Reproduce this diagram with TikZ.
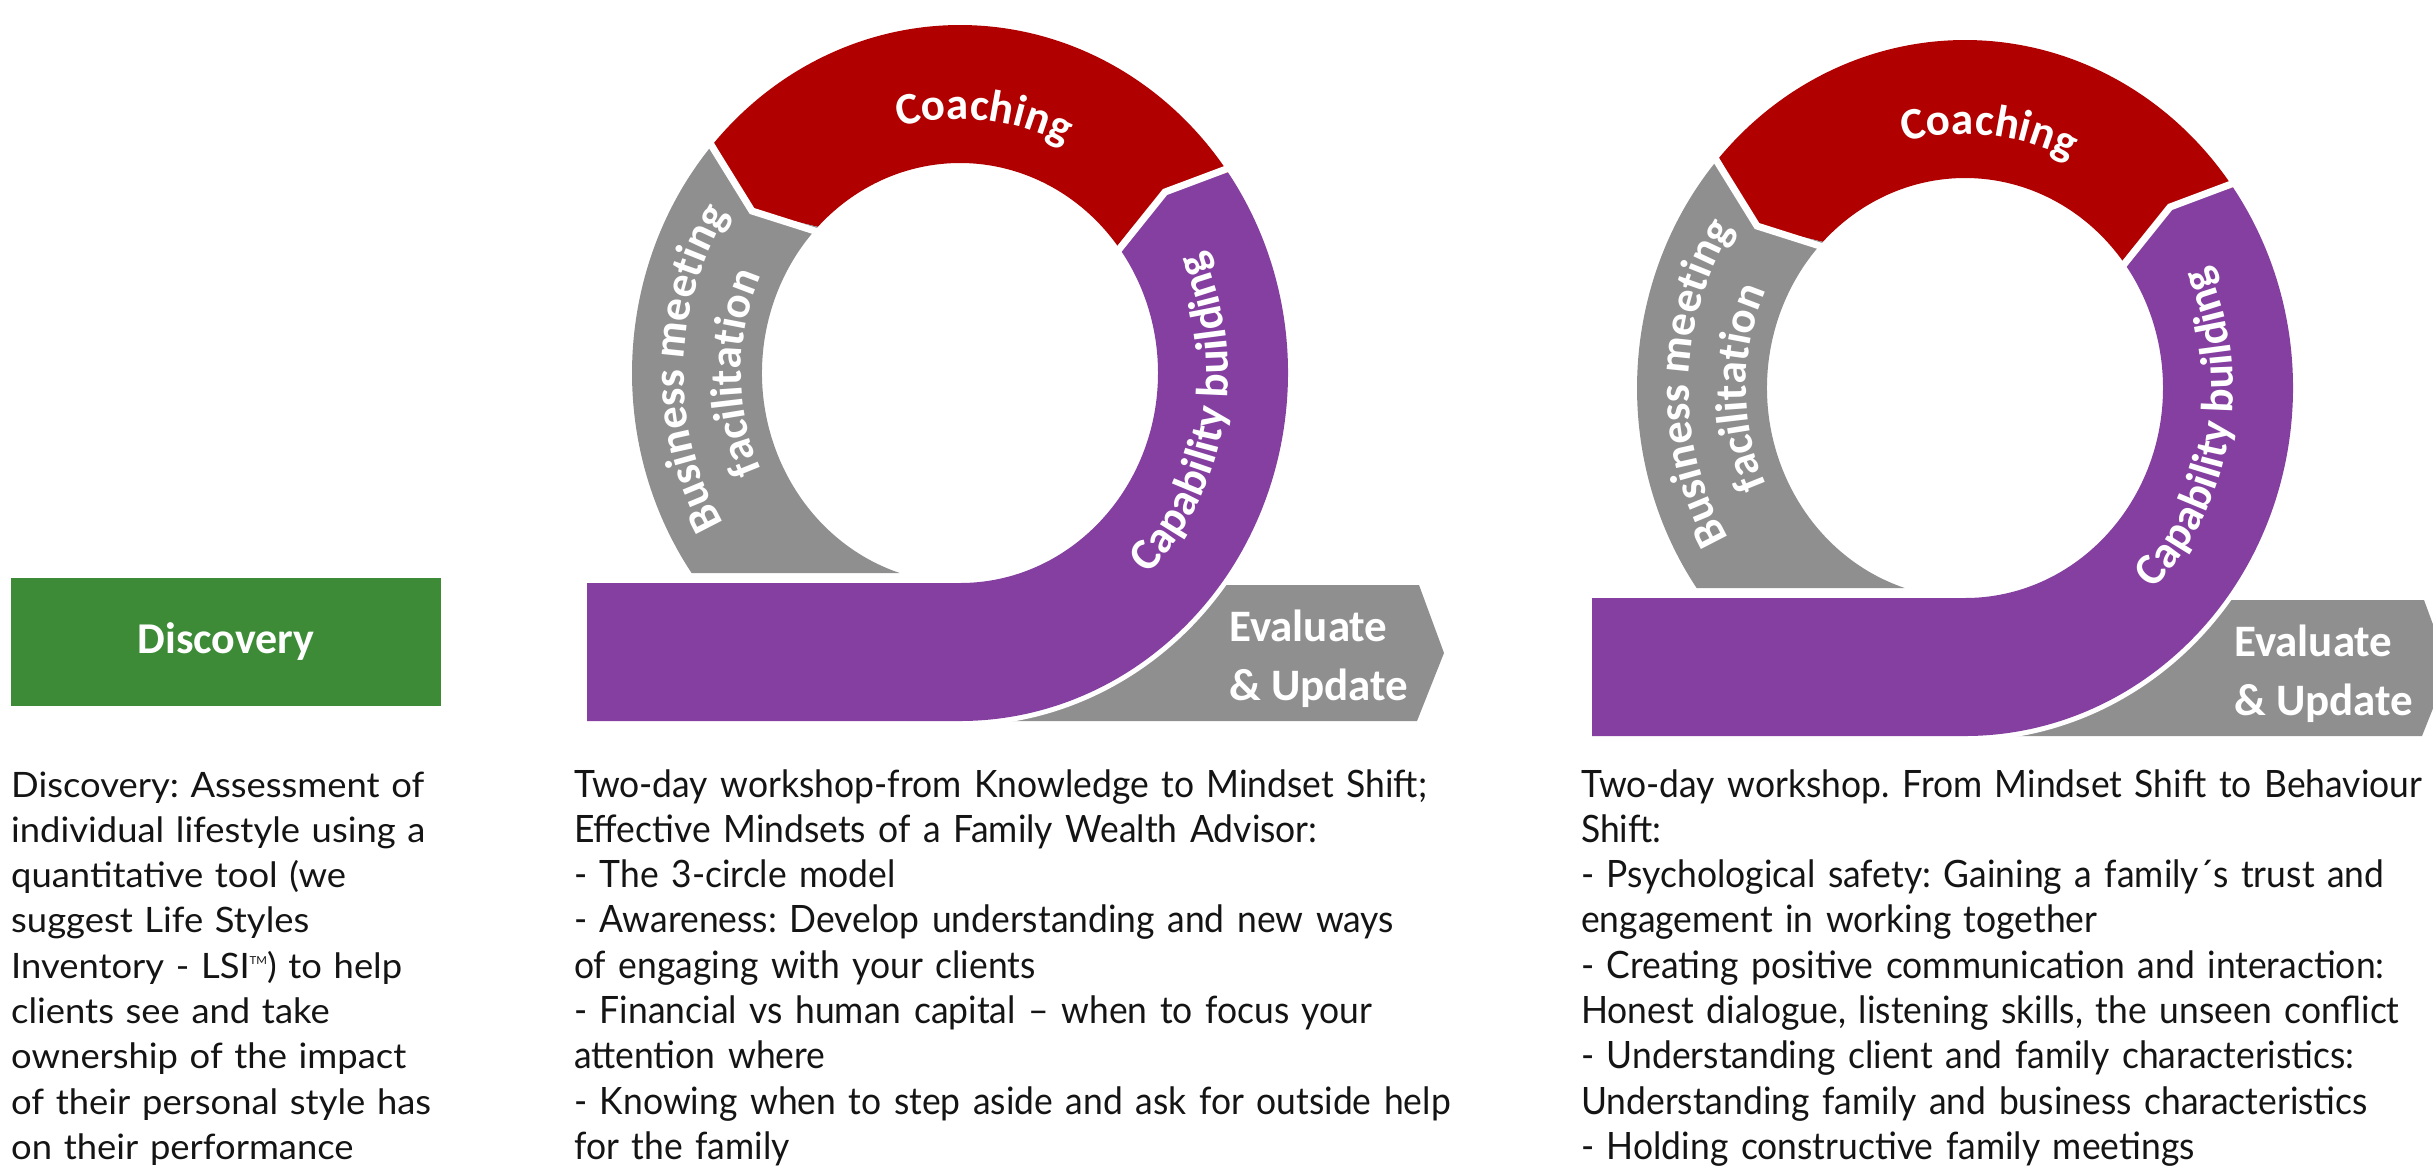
\documentclass[tikz,border=0pt]{standalone}
\usepackage{fontspec}
\usetikzlibrary{decorations.text}
\frenchspacing
\newfontfamily\labelfont{Carlito}
\newfontfamily\bodyfont{Lato}[FakeStretch=1.04]
\newfontfamily\condfont{Lato}[FakeStretch=0.94]
\definecolor{ringred}{HTML}{B00000}
\definecolor{ringpurple}{HTML}{843FA0}
\definecolor{ringgray}{HTML}{8F8F8F}
\definecolor{boxgreen}{HTML}{3D8B37}
\definecolor{bodyblack}{HTML}{141414}
\newcommand\ringfont{\labelfont\bfseries\fontsize{45bp}{45bp}\selectfont\color{white}}
\tikzset{
  evaltext/.style={anchor=base west, inner sep=0pt, text=white,
    font=\labelfont\bfseries\fontsize{45bp}{45bp}\selectfont},
  discbox/.style={fill=boxgreen, minimum width=430bp, minimum height=128bp,
    inner sep=0pt, text=white, font=\labelfont\bfseries\fontsize{44bp}{44bp}\selectfont},
  bodytext/.style={anchor=base west, inner sep=0pt, align=left, text width=900bp,
    text=bodyblack},
  widebody/.style={bodytext, font=\bodyfont\fontsize{35bp}{45.3bp}\selectfont},
  narrowbody/.style={bodytext, font=\condfont\fontsize{37.7bp}{45.3bp}\selectfont},
  gap/.style={white, line width=7bp},
  arclabel/.style={decorate, decoration={text along path, text align=center, text={|\ringfont|#1}}}
}
% one loop: ring of three arrows, purple tail bar and the evaluate arrow
\newcommand\loopdiagram[2]{%
\begin{scope}[shift={#1}]
  % evaluate arrow behind the purple sweep
  \fill[ringgray] (0,-212) -- (459,-212) -- (484,-280) -- (457,-348) -- (0,-348) -- cycle;
  \draw[white, line width=10bp] ({328*cos(-30)},{348*sin(-30)})
     arc[start angle=-30, end angle=-100, x radius=328, y radius=348];
  % capability building: ring part plus the bar
  \fill[ringpurple] (-373,-210) -- (0,-210)
     arc[start angle=-90, end angle=35.6, x radius=198, y radius=210]
     -- (205,181) -- ({328*cos(35.2)},{348*sin(35.2)})
     arc[start angle=35.2, end angle=-90, x radius=328, y radius=348]
     -- (-373,-348) -- cycle;
  % coaching
  \fill[ringred] ({328*cos(138.6)},{348*sin(138.6)})
     arc[start angle=138.6, end angle=35.2, x radius=328, y radius=348]
     -- (205,181) -- ({198*cos(35.6)},{210*sin(35.6)})
     arc[start angle=35.6, end angle=135.9, x radius=198, y radius=210]
     -- (-208,162) -- cycle;
  % business meeting facilitation
  \fill[ringgray] ({328*cos(138.6)},{348*sin(138.6)})
     arc[start angle=138.6, end angle=215.1, x radius=328, y radius=348]
     -- ({198*cos(252.25)},-200)
     arc[start angle=252.25, end angle=135.9, x radius=198, y radius=210]
     -- (-208,162) -- cycle;
  % white joints between the arrows
  \draw[gap] ({1.04*328*cos(138.6)},{1.04*348*sin(138.6)}) -- (-208,162)
     -- ({0.95*198*cos(135.9)},{0.95*210*sin(135.9)});
  \draw[gap] ({1.04*328*cos(35.2)},{1.04*348*sin(35.2)}) -- (205,181)
     -- ({0.95*198*cos(35.6)},{0.95*210*sin(35.6)});
  % labels
  \path[arclabel=Coaching] ({239*cos(134.5)},{254*sin(134.5)})
     arc[start angle=134.5, end angle=34.5, x radius=239, y radius=254];
  \path[arclabel=Business meeting] ({276*cos(229)},{292*sin(229)})
     arc[start angle=229, end angle=129, x radius=276, y radius=292];
  \path[arclabel=facilitation] ({219*cos(230)},{232*sin(230)})
     arc[start angle=230, end angle=130, x radius=219, y radius=232];
  \path[arclabel=Capability building] ({268*cos(-60)},{284*sin(-60)})
     arc[start angle=-60, end angle=40, x radius=268, y radius=284];
  \node[evaltext] (#2eval) at (269,-268) {Evaluate};
  \node[evaltext] (#2upd) at (269,-327) {\& Update};
\end{scope}}
\begin{document}
\begin{tikzpicture}[x=1bp,y=1bp]
\path[use as bounding box] (0,0) rectangle (2433,-1175);
\clip (0,0) rectangle (2433,-1175);

\node[discbox] (discovery) at (226,-642) {Discovery};
\node[widebody] (discoverytext) at (11,-797) {Discovery: Assessment of\\
individual lifestyle using a\\
quantitative tool (we\\
suggest Life Styles\\
Inventory - LSI\raisebox{14bp}{\fontsize{11bp}{11bp}\selectfont TM}) to help\\
clients see and take\\
ownership of the impact\\
of their personal style has\\
on their performance};

\loopdiagram{(960,-373)}{first}
\node[narrowbody] (firsttext) at (574,-797) {Two-day workshop-from Knowledge to Mindset Shift;\\
Effective Mindsets of a Family Wealth Advisor:\\
- The 3-circle model\\
- Awareness: Develop understanding and new ways\\
of engaging with your clients\\
- Financial vs human capital – when to focus your\\
attention where\\
- Knowing when to step aside and ask for outside help\\
for the family};

\loopdiagram{(1965,-388)}{second}
\node[narrowbody] (secondtext) at (1581,-797) {Two-day workshop. From Mindset Shift to Behaviour\\
Shift:\\
- Psychological safety: Gaining a family´s trust and\\
engagement in working together\\
- Creating positive communication and interaction:\\
Honest dialogue, listening skills, the unseen conflict\\
- Understanding client and family characteristics:\\
Understanding family and business characteristics\\
- Holding constructive family meetings};
\end{tikzpicture}
\end{document}
